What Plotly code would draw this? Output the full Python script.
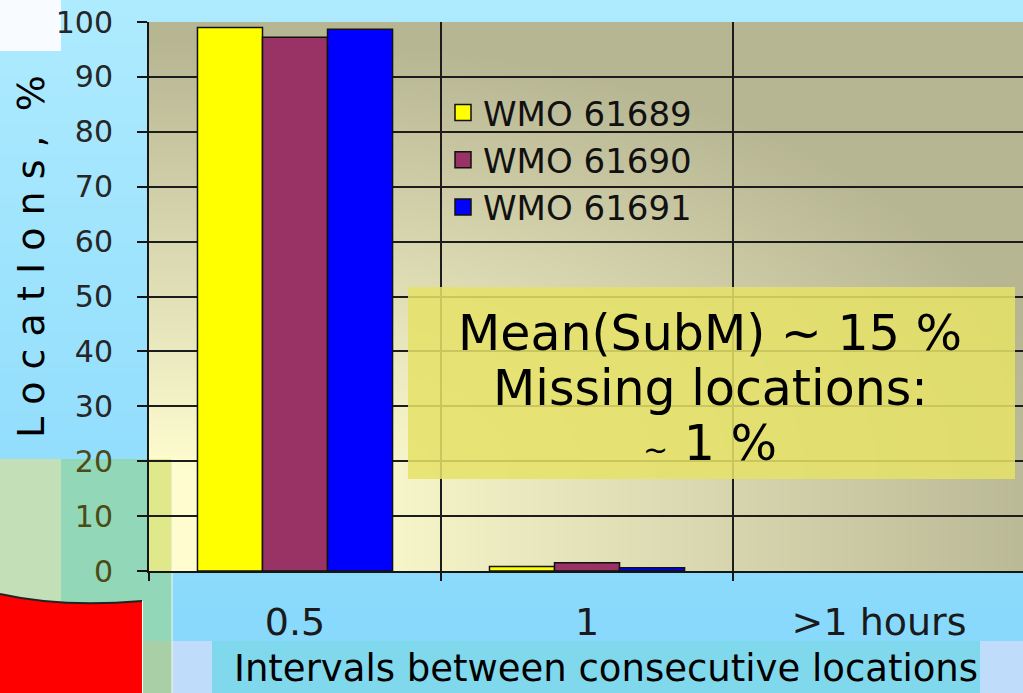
import base64
import struct
import zlib

import plotly.graph_objects as go

# ---- data -------------------------------------------------------------
categories = ["0.5", "1", ">1 hours"]
category_pos = [0, 1, 2]
series_names = ["WMO 61689", "WMO 61690", "WMO 61691"]
wmo_61689 = [99.0, 0.8, 0.0]
wmo_61690 = [97.2, 1.5, 0.0]
wmo_61691 = [98.7, 0.6, 0.0]
series_values = [wmo_61689, wmo_61690, wmo_61691]
series_colors = ["#ffff00", "#993366", "#0000ff"]
y_tick_vals = [0, 10, 20, 30, 40, 50, 60, 70, 80, 90, 100]
note_lines = ["Mean(SubM) ~ 15 %", "Missing locations:",
              "<span style='font-size:30px'>~</span> 1 %"]

# ---- canvas geometry (pixels) -----------------------------------------
W, H = 1023, 693
PL, PR, PT, PB = 149, 1023, 22, 571   # plot area edges


def px(x):
    return (x - PL) / (PR - PL)


def py(y):
    return (PB - y) / (PB - PT)


def png_uri(w, h, rgb_at):
    rows = bytearray()
    for j in range(h):
        rows.append(0)
        for i in range(w):
            rows.extend(rgb_at(i, j))

    def chunk(tag, data):
        c = tag + data
        return struct.pack(">I", len(data)) + c + struct.pack(">I", zlib.crc32(c) & 0xFFFFFFFF)

    png = (b"\x89PNG\r\n\x1a\n"
           + chunk(b"IHDR", struct.pack(">IIBBBBB", w, h, 8, 2, 0, 0, 0))
           + chunk(b"IDAT", zlib.compress(bytes(rows), 9))
           + chunk(b"IEND", b""))
    return "data:image/png;base64," + base64.b64encode(png).decode()


def mix(c0, c1, t):
    t = max(0.0, min(1.0, t))
    return bytes(int(round(a + (b - a) * t)) for a, b in zip(c0, c1))


# slide background: light sky-blue, slightly deeper towards the bottom
SKY_TOP, SKY_BOT = (174, 235, 254), (136, 217, 252)
page_h = 70
page_bg = png_uri(1, page_h, lambda i, j: mix(SKY_TOP, SKY_BOT, j / (page_h - 1) * (693 / 640)))

# plot area fill: cream in the lower-left corner fading to khaki
CREAM, KHAKI = (255, 253, 208), (183, 182, 147)
gw, gh = (PR - PL) // 2, (PB - PT) // 2


def plot_fill(i, j):
    x = PL + i * 2
    y = PT + j * 2
    dx = max(x - 172 - 130, 0) / 760
    dy = max(PB - y - 100, 0) / 430
    return mix(CREAM, KHAKI, (dx * dx + dy * dy) ** 0.5)


plot_bg = png_uri(gw, gh, plot_fill)

# ---- traces -----------------------------------------------------------
fig = go.Figure()
for name, vals, col in zip(series_names, series_values, series_colors):
    fig.add_trace(go.Bar(
        x=category_pos, y=vals, name=name, showlegend=False,
        marker=dict(color=col, line=dict(color="#111111",
                                         width=[1.5 if v > 0 else 0 for v in vals])),
    ))
for name, col in zip(series_names, series_colors):
    fig.add_trace(go.Scatter(
        x=[None], y=[None], mode="markers", name=name,
        marker=dict(symbol="square", size=16, color=col,
                    line=dict(color="#111111", width=1.5)),
    ))

FONT = "DejaVu Sans"
olive_ticks = {0, 10, 20}
y_tick_text = [
    f"<span style='color:#4b4c14'>{v}</span>" if v in olive_ticks else str(v)
    for v in y_tick_vals
]

# ---- decorative shapes ------------------------------------------------
shapes = []


def rect(x0, y0, x1, y1, fill, layer="below", line=None):
    shapes.append(dict(type="rect", xref="paper", yref="paper",
                       x0=px(x0), x1=px(x1), y0=py(y1), y1=py(y0),
                       fillcolor=fill, line=line or dict(width=0), layer=layer))


rect(0, 0, 61, 51, "#f8fbff")
rect(0, 459, 61, 693, "#c3dfb8")
rect(61, 459, 149, 641, "#93d7b9")
rect(149, 571, 172, 641, "#93d7b9")
rect(149, 459, 172, 571, "#dfe98c")
rect(142, 641, 172, 693, "#a9cfa6")
rect(172, 641, 212, 693, "#c0dcfb")
rect(212, 641, 980, 693, "#80d8ec")
rect(980, 641, 1023, 693, "#c0dcfb")


def pth(points, close=True):
    s = ""
    for k, p in enumerate(points):
        if p[0] == "C":
            s += " C " + " ".join(f"{px(a):.5f},{py(b):.5f}" for a, b in p[1:])
        else:
            s += (" M " if k == 0 else " L ") + f"{px(p[0]):.5f},{py(p[1]):.5f}"
    return s + (" Z" if close else "")


red_curve = [(0, 594), ("C", (40, 603), (85, 606), (142, 601))]
shapes.append(dict(type="path", xref="paper", yref="paper", layer="below",
                   path=pth(red_curve + [(142, 693), (0, 693)]),
                   fillcolor="#ff0000", line=dict(width=0)))
shapes.append(dict(type="path", xref="paper", yref="paper", layer="below",
                   path=pth(red_curve, close=False),
                   line=dict(color="#222222", width=2)))
shapes.append(dict(type="line", xref="paper", yref="paper", layer="below",
                   x0=px(142.5), x1=px(142.5), y0=py(601), y1=py(693),
                   line=dict(color="#ffffff", width=1)))
shapes.append(dict(type="line", xref="paper", yref="paper", layer="below",
                   x0=px(172), x1=px(172), y0=py(459), y1=py(693),
                   line=dict(color="#f4f8f0", width=1)))
# translucent note box
rect(408, 287, 1015, 479, "rgba(229,226,104,0.86)", layer="above")

# ---- annotations -------------------------------------------------------
annotations = []
for txt, yc in zip(note_lines, [333, 388, 443]):
    annotations.append(dict(xref="paper", yref="paper", x=px(710), y=py(yc),
                            text=txt, showarrow=False, xanchor="center", yanchor="middle",
                            font=dict(family=FONT, size=49, color="#000000")))
annotations.append(dict(xref="paper", yref="paper", x=px(606), y=py(668),
                        text="Intervals between consecutive locations", showarrow=False,
                        xanchor="center", yanchor="middle",
                        font=dict(family=FONT, size=37, color="#000000")))
annotations.append(dict(xref="paper", yref="paper", x=px(31), y=py(257),
                        text="L o c a t I o n s ,  %", showarrow=False, textangle=-90,
                        xanchor="center", yanchor="middle",
                        font=dict(family=FONT, size=38, color="#000000")))

fig.update_layout(
    width=W, height=H, template="none",
    margin=dict(l=PL, r=W - PR, t=PT, b=H - PB, pad=0, autoexpand=False),
    paper_bgcolor="#a6e4fd", plot_bgcolor="rgba(0,0,0,0)",
    barmode="group", bargap=0.332, bargroupgap=0.0,
    showlegend=True,
    legend=dict(x=px(443), y=py(84), xanchor="left", yanchor="top",
                bgcolor="rgba(0,0,0,0)", borderwidth=0, itemsizing="trace",
                font=dict(family=FONT, size=34, color="#111111")),
    xaxis=dict(
        range=[-0.5, 2.493], tickmode="array", tickvals=category_pos, ticktext=categories,
        ticks="", showgrid=False, zeroline=False,
        showline=True, linecolor="#151515", linewidth=2,
        tickfont=dict(family=FONT, size=38, color="#1a1a1a"), ticklabelstandoff=16,
        minor=dict(tickmode="array", tickvals=[-0.5, 0.5, 1.5, 2.5], ticks="outside",
                   ticklen=8, tickwidth=2, tickcolor="#151515",
                   showgrid=True, gridcolor="#1c1c1c", gridwidth=2),
    ),
    yaxis=dict(
        range=[0, 100], tickmode="array", tickvals=y_tick_vals, ticktext=y_tick_text,
        ticks="outside", ticklen=10, tickwidth=2, tickcolor="#151515",
        showgrid=True, gridcolor="#1c1c1c", gridwidth=2, zeroline=False,
        showline=True, linecolor="#151515", linewidth=2,
        tickfont=dict(family=FONT, size=30, color="#262626"), ticklabelstandoff=18,
    ),
    images=[
        dict(source=page_bg, xref="paper", yref="paper", x=px(0), y=py(0),
             sizex=W / (PR - PL), sizey=H / (PB - PT), sizing="stretch",
             xanchor="left", yanchor="top", layer="below"),
        dict(source=plot_bg, xref="paper", yref="paper", x=0, y=1, sizex=1, sizey=1,
             sizing="stretch", xanchor="left", yanchor="top", layer="below"),
    ],
    shapes=shapes,
    annotations=annotations,
)

fig.write_html("out.html")
